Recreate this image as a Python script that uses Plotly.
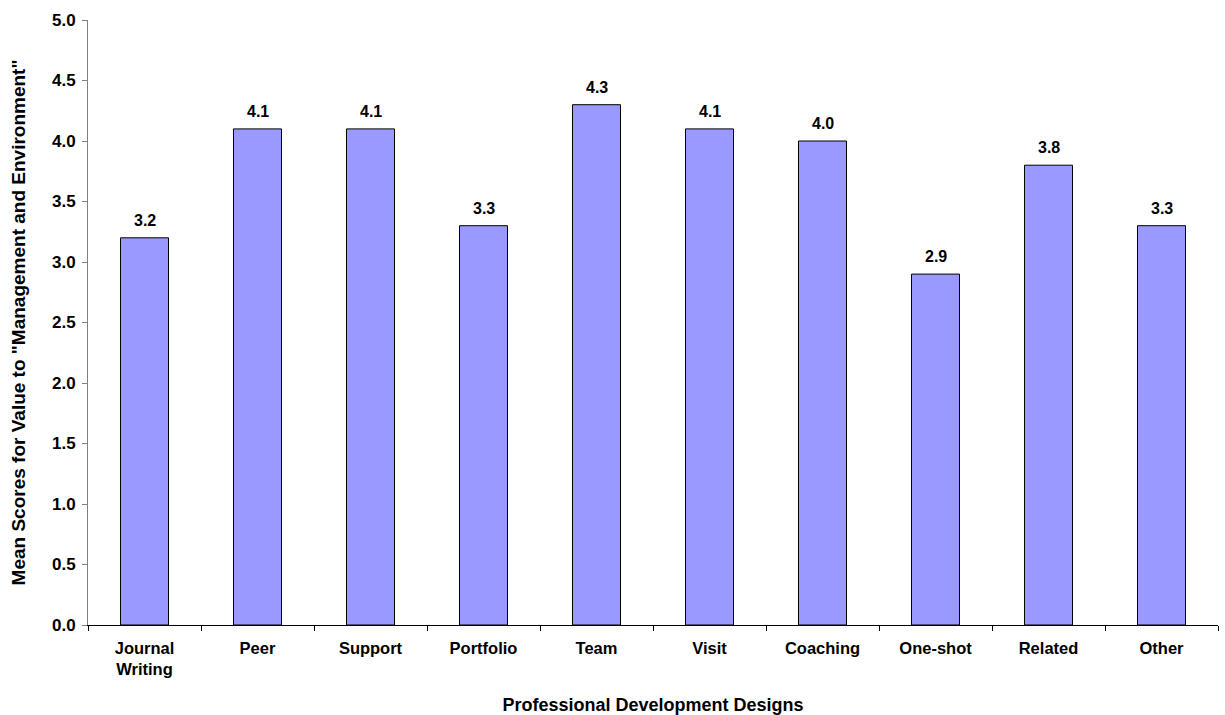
import plotly.graph_objects as go

categories = ["Journal<br>Writing", "Peer", "Support", "Portfolio", "Team",
              "Visit", "Coaching", "One-shot", "Related", "Other"]
values = [3.2, 4.1, 4.1, 3.3, 4.3, 4.1, 4.0, 2.9, 3.8, 3.3]

FONT = "Liberation Sans, Arial, sans-serif"

fig = go.Figure(go.Bar(
    x=categories, y=values,
    marker=dict(color="#9999FF", line=dict(color="black", width=1)),
    hoverinfo="x+y",
))

for c, v in zip(categories, values):
    fig.add_annotation(
        x=c, y=v, text=f"<b>{v:.1f}</b>", showarrow=False,
        yanchor="bottom", yshift=7,
        font=dict(family=FONT, size=16, color="black"),
    )

fig.update_layout(
    width=1225, height=715,
    margin=dict(l=88, r=7, t=20, b=90, autoexpand=False),
    paper_bgcolor="white", plot_bgcolor="white",
    bargap=0.575,
    showlegend=False,
    font=dict(family=FONT, size=16, color="black"),
)
fig.update_yaxes(
    range=[0, 5], dtick=0.5, tickformat=".1f",
    showgrid=False, zeroline=False,
    showline=True, linecolor="#808080", linewidth=1,
    ticks="outside", ticklen=5, tickcolor="#808080",
    ticklabelstandoff=3,
    tickfont=dict(family=FONT, size=17, color="black", weight="bold"),
    title=dict(text="<b>Mean Scores for Value to \"Management and Environment\"</b>",
               font=dict(family=FONT, size=19), standoff=21),
)
fig.update_xaxes(
    showgrid=False, zeroline=False,
    showline=True, linecolor="black", linewidth=1,
    ticks="outside", ticklen=5, tickcolor="black", tickson="boundaries",
    ticklabelstandoff=8,
    tickfont=dict(family=FONT, size=16.5, color="black", weight="bold"),
    title=dict(text="<b>Professional Development Designs</b>",
               font=dict(family=FONT, size=18), standoff=22),
)

fig.write_html("out.html", config={"displayModeBar": False},
               post_script="document.body.style.margin='0';")
